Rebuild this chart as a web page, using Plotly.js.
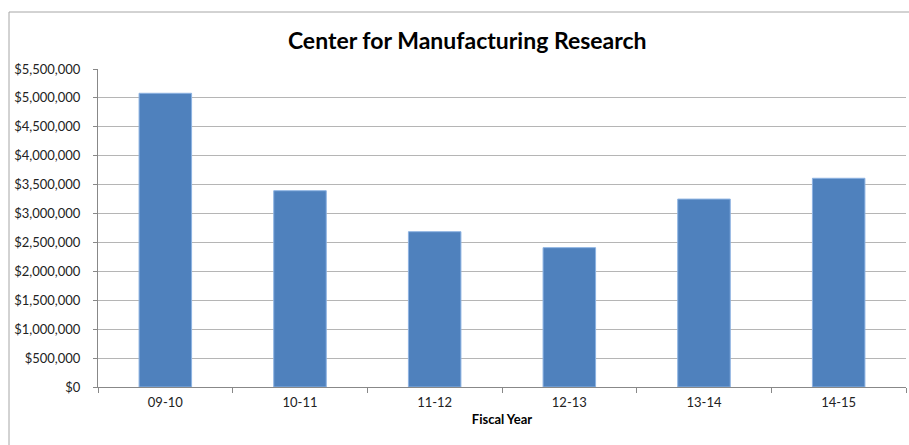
<!DOCTYPE html>
<html>
<head>
<meta charset="utf-8">
<script src="https://cdn.plot.ly/plotly-3.0.1.min.js"></script>
<style>
html,body{margin:0;padding:0;background:#fff;}
#chart{width:909px;height:445px;}
</style>
</head>
<body>
<div id="chart"></div>
<script>
const categories = ["09-10", "10-11", "11-12", "12-13", "13-14", "14-15"];
const funding = [5080000, 3395000, 2686000, 2410000, 3250000, 3610000];
const yTickVals = [0, 500000, 1000000, 1500000, 2000000, 2500000, 3000000, 3500000, 4000000, 4500000, 5000000, 5500000];
const yTickText = ["$0", "$500,000", "$1,000,000", "$1,500,000", "$2,000,000", "$2,500,000", "$3,000,000", "$3,500,000", "$4,000,000", "$4,500,000", "$5,000,000", "$5,500,000"];

const trace = {
  type: "bar",
  x: categories,
  y: funding,
  marker: {color: "#4f81bd", line: {color: "#8db3e2", width: 1}},
  hoverinfo: "x+y"
};

const layout = {
  width: 909,
  height: 445,
  margin: {l: 98, r: 3, t: 69, b: 58, pad: 0},
  paper_bgcolor: "#ffffff",
  plot_bgcolor: "#ffffff",
  font: {family: "Lato, 'Open Sans', sans-serif", size: 13, color: "#222"},
  showlegend: false,
  bargap: 0.61,
  title: {
    text: "<b>Center for Manufacturing Research</b>",
    font: {family: "Lato, 'Open Sans', sans-serif", size: 23, color: "#000"},
    xref: "container", x: 0.514, xanchor: "center",
    yref: "container", y: 0.908, yanchor: "middle"
  },
  xaxis: {
    type: "category",
    range: [-0.5, 5.5],
    tickson: "boundaries",
    ticks: "outside",
    ticklen: 5,
    tickcolor: "#888",
    showline: true,
    linecolor: "#888",
    linewidth: 1,
    showgrid: false,
    zeroline: false,
    tickfont: {size: 13, color: "#222"},
    ticklabelstandoff: 3,
    title: {text: "<b>Fiscal Year</b>", font: {size: 13, color: "#000"}, standoff: 6},
    automargin: false,
    fixedrange: true
  },
  yaxis: {
    range: [0, 5500000],
    tickvals: yTickVals,
    ticktext: yTickText,
    ticks: "outside",
    ticklen: 4,
    tickcolor: "#888",
    showline: true,
    linecolor: "#888",
    linewidth: 1,
    showgrid: true,
    gridcolor: "#b5b5b5",
    gridwidth: 1,
    zeroline: false,
    tickfont: {size: 13, color: "#222"},
    ticklabelstandoff: 10,
    automargin: false,
    fixedrange: true
  },
  shapes: [
    {type: "line", xref: "paper", yref: "paper", x0: (9 - 98) / 808, x1: (909 - 98) / 808, y0: (387 - 12) / 318, y1: (387 - 12) / 318, line: {color: "#a6a6a6", width: 1}},
    {type: "line", xref: "paper", yref: "paper", x0: (9 - 98) / 808, x1: (9 - 98) / 808, y0: (387 - 12) / 318, y1: (387 - 446) / 318, line: {color: "#a6a6a6", width: 1}}
  ]
};

Plotly.newPlot("chart", [trace], layout, {displayModeBar: false, staticPlot: true});
</script>
</body>
</html>
